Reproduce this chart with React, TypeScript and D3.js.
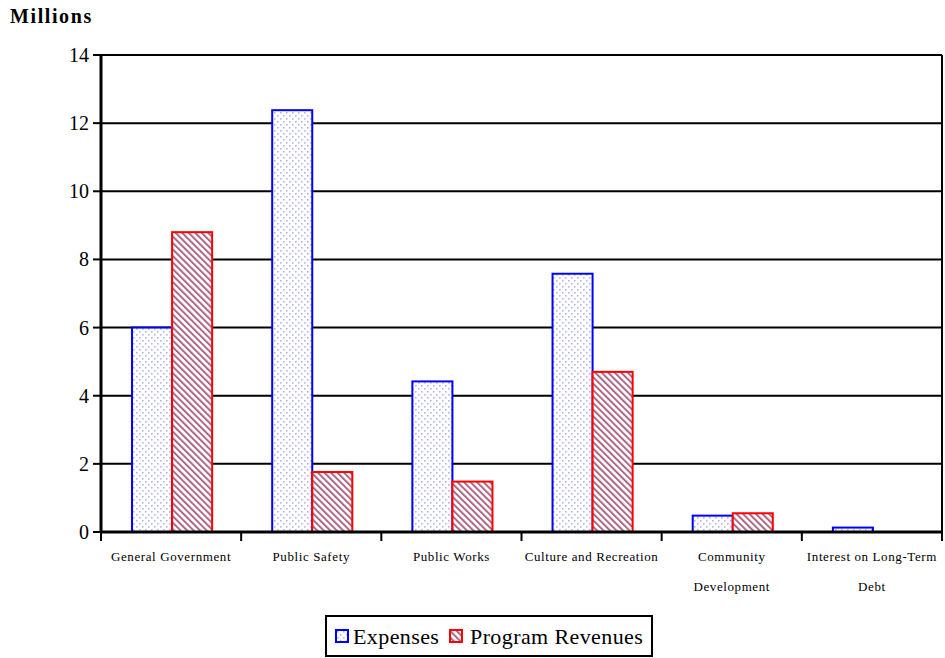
import React, { useRef, useEffect } from "react";
import * as d3 from "d3";

const categories = [
  ["General Government"],
  ["Public Safety"],
  ["Public Works"],
  ["Culture and Recreation"],
  ["Community", "Development"],
  ["Interest on Long-Term", "Debt"],
];
const expenses = [6.0, 12.38, 4.42, 7.58, 0.48, 0.13];
const revenues = [8.8, 1.76, 1.48, 4.7, 0.55, 0.0];
const yTicks = [0, 2, 4, 6, 8, 10, 12, 14];
const seriesNames = ["Expenses", "Program Revenues"];

const W = 945;
const H = 658;

export default function App() {
  const svgRef = useRef<SVGSVGElement>(null);

  useEffect(() => {
    if (!svgRef.current) return;
    const svg = d3.select(svgRef.current);
    svg.selectAll("*").remove();

    const font = "'Liberation Serif', 'Times New Roman', serif";
    const left = 101, right = 942, top = 55, bottom = 532;

    // patterns
    const defs = svg.append("defs");
    const dots = defs.append("pattern")
      .attr("id", "dots").attr("patternUnits", "userSpaceOnUse")
      .attr("width", 6).attr("height", 6);
    dots.append("rect").attr("width", 6).attr("height", 6).attr("fill", "#fff");
    dots.append("rect").attr("x", 1).attr("y", 1).attr("width", 1.6).attr("height", 1.6).attr("fill", "#b4b4f0");
    dots.append("rect").attr("x", 4).attr("y", 4).attr("width", 1.6).attr("height", 1.6).attr("fill", "#b4b4f0");

    const hatch = defs.append("pattern")
      .attr("id", "hatch").attr("patternUnits", "userSpaceOnUse")
      .attr("width", 4.6).attr("height", 4.6)
      .attr("patternTransform", "rotate(-45)");
    hatch.append("rect").attr("width", 4.6).attr("height", 4.6).attr("fill", "#fff");
    hatch.append("rect").attr("x", 0).attr("y", 0).attr("width", 2).attr("height", 4.6).attr("fill", "#ac6888");

    const x = d3.scaleBand<number>()
      .domain(d3.range(categories.length))
      .range([left, right]);
    const xs = d3.scaleBand<number>()
      .domain([0, 1])
      .range([1, x.bandwidth() + 1])
      .paddingInner(0)
      .paddingOuter(0.75);
    const y = d3.scaleLinear().domain([0, 14]).range([bottom, top]);

    // gridlines
    svg.append("g").selectAll("line").data(yTicks.filter(d => d > 0)).join("line")
      .attr("x1", left).attr("x2", right)
      .attr("y1", d => y(d)).attr("y2", d => y(d))
      .attr("stroke", "#000").attr("stroke-width", 2);

    // right border
    svg.append("line")
      .attr("x1", right).attr("x2", right).attr("y1", top).attr("y2", bottom)
      .attr("stroke", "#000").attr("stroke-width", 2);

    // bars
    const g = svg.append("g");
    const series = [expenses, revenues];
    const fills = ["url(#dots)", "url(#hatch)"];
    const strokes = ["#0000ff", "#ff0000"];
    series.forEach((vals, s) => {
      g.append("g").selectAll("rect").data(vals).join("rect")
        .attr("x", (_, i) => (x(i) as number) + (xs(s) as number))
        .attr("width", xs.bandwidth())
        .attr("y", d => y(d))
        .attr("height", d => y(0) - y(d))
        .attr("fill", fills[s])
        .attr("stroke", d => (d > 0 ? strokes[s] : "none"))
        .attr("stroke-width", 2);
    });

    // y axis
    svg.append("line")
      .attr("x1", left).attr("x2", left).attr("y1", top - 1).attr("y2", bottom + 1)
      .attr("stroke", "#000").attr("stroke-width", 3);
    const yAx = svg.append("g");
    yAx.selectAll("line").data(yTicks).join("line")
      .attr("x1", left - 8).attr("x2", left)
      .attr("y1", d => y(d)).attr("y2", d => y(d))
      .attr("stroke", "#000").attr("stroke-width", 2);
    yAx.selectAll("text").data(yTicks).join("text")
      .attr("x", left - 12).attr("y", d => y(d))
      .attr("dy", "0.35em")
      .attr("text-anchor", "end")
      .attr("font-family", font).attr("font-size", 20)
      .text(d => d);

    // x axis
    svg.append("line")
      .attr("x1", left).attr("x2", right).attr("y1", bottom).attr("y2", bottom)
      .attr("stroke", "#000").attr("stroke-width", 3);
    const bounds = d3.range(categories.length + 1).map(i =>
      i < categories.length ? (x(i) as number) : right);
    svg.append("g").selectAll("line").data(bounds).join("line")
      .attr("x1", d => d).attr("x2", d => d)
      .attr("y1", bottom).attr("y2", bottom + 9)
      .attr("stroke", "#000").attr("stroke-width", 2);

    const labels = svg.append("g");
    categories.forEach((lines, i) => {
      const cx = (x(i) as number) + x.bandwidth() / 2;
      lines.forEach((line, j) => {
        labels.append("text")
          .attr("x", cx).attr("y", 561 + j * 30)
          .attr("text-anchor", "middle")
          .attr("font-family", font).attr("font-size", 13)
          .attr("letter-spacing", 0.6)
          .text(line);
      });
    });

    // title
    svg.append("text")
      .attr("x", 10).attr("y", 23)
      .attr("font-family", font).attr("font-size", 20).attr("font-weight", "bold")
      .attr("letter-spacing", 1.6)
      .text("Millions");

    // legend
    const lg = svg.append("g");
    lg.append("rect")
      .attr("x", 326).attr("y", 616).attr("width", 326).attr("height", 40)
      .attr("fill", "#fff").attr("stroke", "#000").attr("stroke-width", 2);
    const items = [{ x: 336 }, { x: 450 }];
    seriesNames.forEach((name, s) => {
      lg.append("rect")
        .attr("x", items[s].x).attr("y", 630).attr("width", 12).attr("height", 12)
        .attr("fill", fills[s]).attr("stroke", strokes[s]).attr("stroke-width", 2);
      lg.append("text")
        .attr("x", items[s].x + (s === 0 ? 17 : 20)).attr("y", 644)
        .attr("font-family", font).attr("font-size", 22)
        .attr("letter-spacing", 0.4)
        .text(name);
    });
  }, []);

  return (
    <svg
      ref={svgRef}
      width={W}
      height={H}
      style={{ position: "absolute", left: 0, top: 0, background: "#fff" }}
    />
  );
}
